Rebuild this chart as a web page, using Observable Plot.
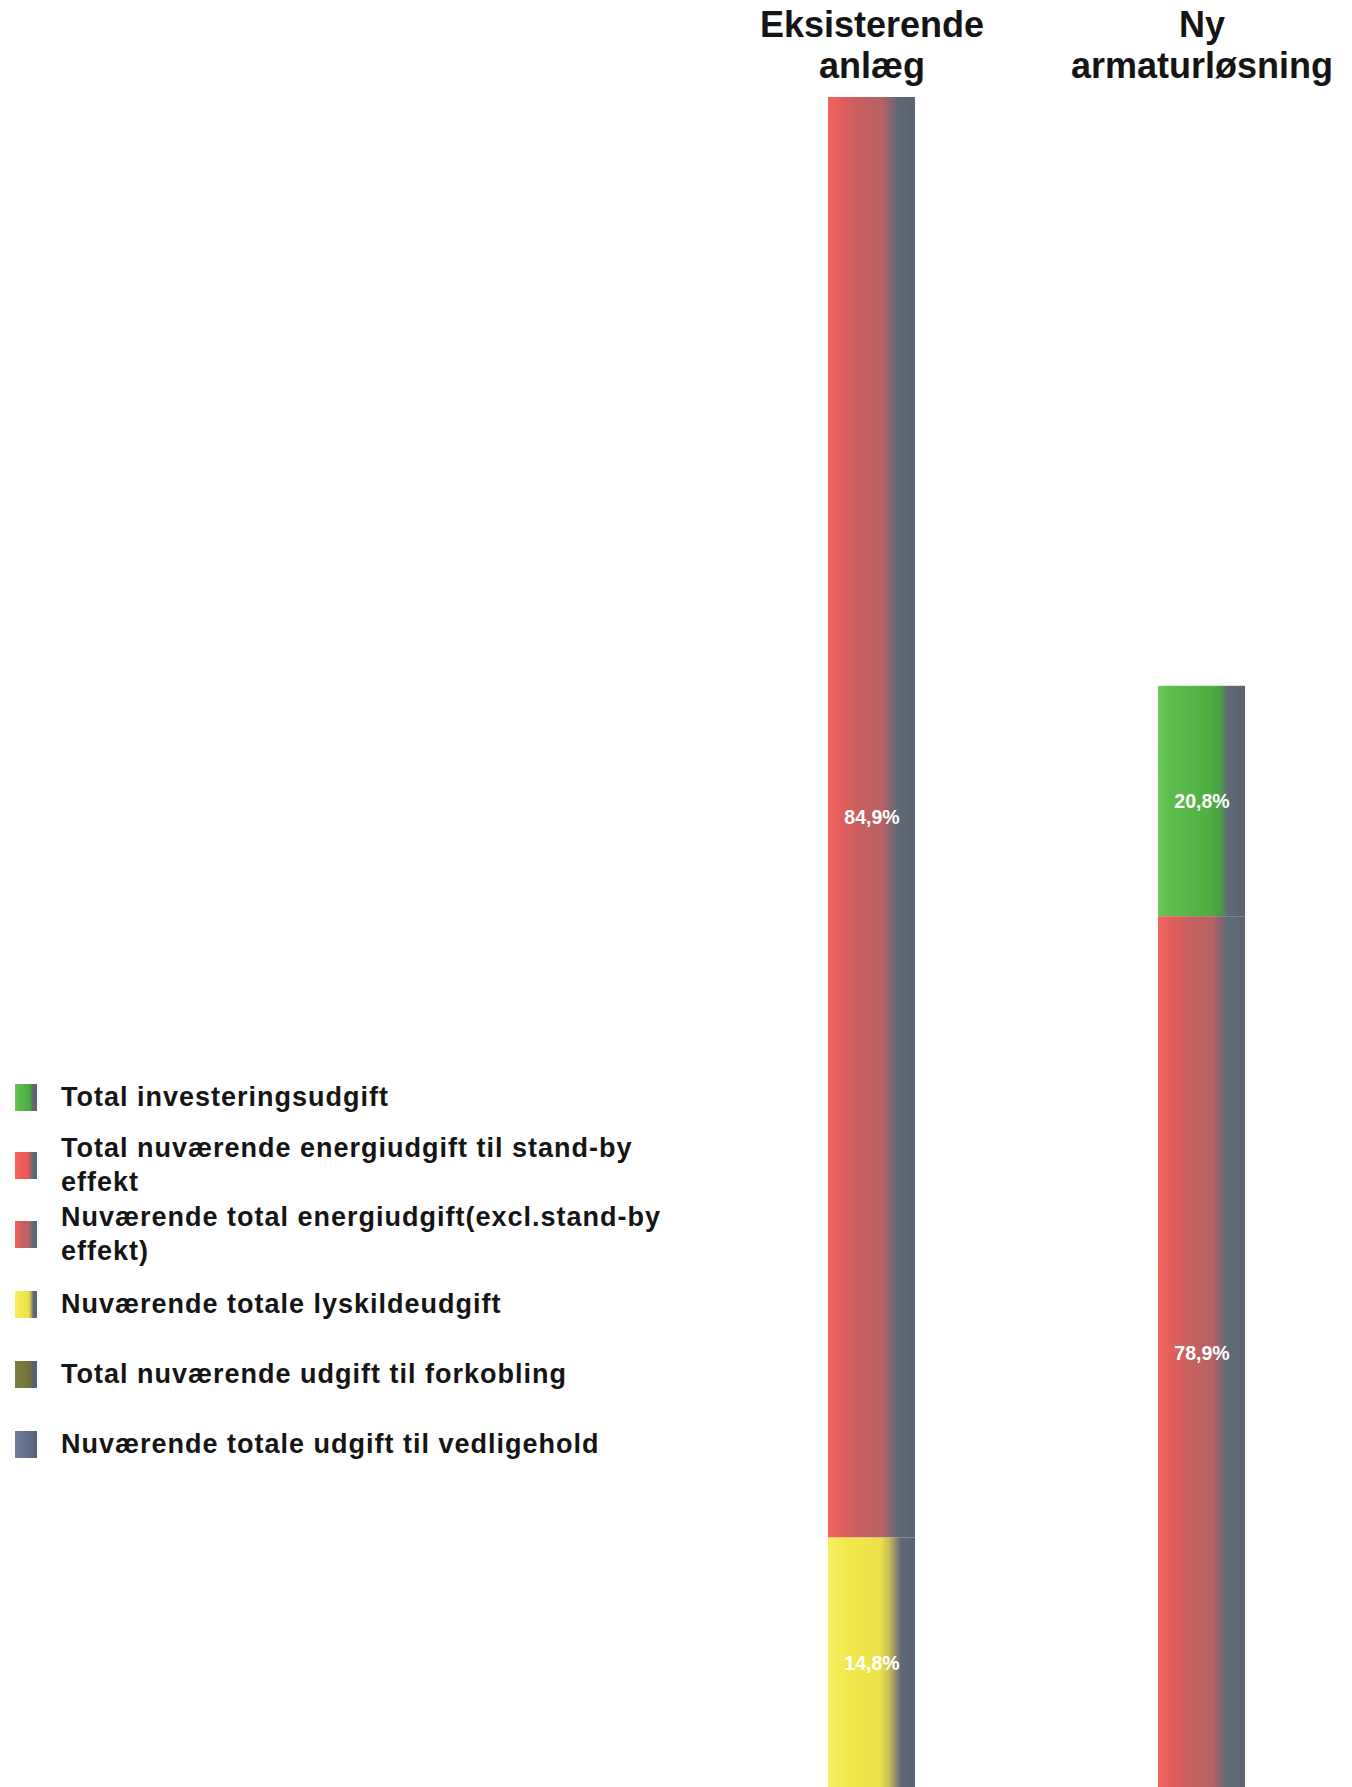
<!DOCTYPE html>
<html>
<head>
<meta charset="utf-8">
<script src="https://cdn.jsdelivr.net/npm/d3@7"></script>
<script src="https://cdn.jsdelivr.net/npm/@observablehq/plot@0.6"></script>
<style>
  body { margin: 0; background: #fff; }
  #wrap { position: relative; width: 1352px; height: 1787px; overflow: hidden; font-family: "Liberation Sans", Arial, sans-serif; background: #fff; }
  #chart { position: absolute; left: 0; top: 0; }
  .sw { position: absolute; left: 15px; width: 22px; height: 27px; }
  .lt { position: absolute; left: 61px; font-weight: bold; font-size: 27px; line-height: 34px; letter-spacing: 1px; color: #151515; white-space: nowrap; }
</style>
</head>
<body>
<div id="wrap"><div id="chart"></div><div id="legend"></div></div>
<script>
// ---- data ----
const categories = ["Eksisterende anlæg", "Ny armaturløsning"];
const categoryLabels = ["Eksisterende\nanlæg", "Ny\narmaturløsning"];
const series = [
  "Total investeringsudgift",
  "Total nuværende energiudgift til stand-by effekt",
  "Nuværende total energiudgift(excl.stand-by effekt)",
  "Nuværende totale lyskildeudgift",
  "Total nuværende udgift til forkobling",
  "Nuværende totale udgift til vedligehold"
];
const legendLines = [
  ["Total investeringsudgift"],
  ["Total nuværende energiudgift til stand-by", "effekt"],
  ["Nuværende total energiudgift(excl.stand-by", "effekt)"],
  ["Nuværende totale lyskildeudgift"],
  ["Total nuværende udgift til forkobling"],
  ["Nuværende totale udgift til vedligehold"]
];
// relative total cost of each solution (existing = 100)
const barTotals = [100, 65.3];
// share (%) of each series within each bar, in series order
const sharesExisting = [0, 0, 84.9, 14.8, 0.1, 0.2];
const sharesNew = [20.8, 0, 78.9, 0, 0, 0.3];
const shares = [sharesExisting, sharesNew];
const labelMinShare = 5;

// ---- styles ----
const gradientStops = [
  [[0, "#6cc85a"], [0.15, "#5cbd4c"], [0.6, "#4fae41"], [0.72, "#4e9a48"], [0.8, "#5d6a74"], [1, "#59636f"]],
  [[0, "#f6665f"], [0.2, "#f05d5a"], [0.6, "#e25a5a"], [0.72, "#a26068"], [0.8, "#5f6a76"], [1, "#5a6470"]],
  [[0, "#f2645e"], [0.15, "#e25e5d"], [0.35, "#c7605f"], [0.62, "#b86264"], [0.74, "#7c6570"], [0.8, "#5f6a76"], [1, "#5a6571"]],
  [[0, "#f7ef62"], [0.2, "#f2ea4c"], [0.6, "#ebe24a"], [0.7, "#c9c056"], [0.78, "#8e8b6a"], [0.84, "#5f6878"], [1, "#5a6474"]],
  [[0, "#7c7d40"], [0.4, "#77783a"], [0.7, "#6c6c40"], [0.8, "#5c6370"], [1, "#565f6c"]],
  [[0, "#6f7d98"], [0.5, "#64718a"], [0.8, "#5d687c"], [1, "#576072"]]
];

// ---- derived table ----
const table = [];
categories.forEach((c, i) => {
  series.forEach((s, j) => {
    const p = shares[i][j];
    if (p > 0) table.push({category: c, series: s, share: p, value: p * barTotals[i] / 100});
  });
});
const stackOrder = series.slice().reverse(); // bottom -> top
const fmtPct = p => p.toFixed(1).replace(".", ",") + "%";
const gradUrls = series.map((s, i) => `url(#grad${i})`);

function gradientDefs() {
  const defs = d3.create("svg:defs");
  gradientStops.forEach((stops, i) => {
    const g = defs.append("linearGradient").attr("id", "grad" + i)
      .attr("x1", 0).attr("x2", 1).attr("y1", 0).attr("y2", 0);
    stops.forEach(([o, c]) => g.append("stop").attr("offset", o).attr("stop-color", c));
  });
  return defs.node();
}

const chart = Plot.plot({
  width: 1352,
  height: 1787,
  marginTop: 97,
  marginBottom: 0,
  marginLeft: 729,
  marginRight: 8,
  style: {fontFamily: "'Liberation Sans', Arial, sans-serif", background: "#fff"},
  x: {domain: categories, paddingInner: 0.7364, paddingOuter: 0.3, round: false, axis: null},
  y: {domain: [0.4, 100], axis: null},
  color: {type: "ordinal", domain: series, range: gradUrls},
  marks: [
    gradientDefs,
    Plot.barY(table, {x: "category", y: "value", fill: "series", order: stackOrder, clip: true}),
    Plot.text(table, Plot.stackY({
      x: "category", y: "value", z: "series", order: stackOrder,
      text: d => d.share >= labelMinShare ? fmtPct(d.share) : "",
      fill: "white", fontWeight: "bold", fontSize: 19.5
    })),
    Plot.text(categories, {
      x: d => d, text: (d, i) => categoryLabels[i],
      frameAnchor: "top", lineAnchor: "bottom", dy: -20,
      fontSize: 36, fontWeight: "bold", lineHeight: 1.12, fill: "#151515"
    })
  ]
});
document.getElementById("chart").appendChild(chart);

// ---- legend ----
const legendTops = [1080, 1131, 1200, 1287, 1357, 1427];
const legend = document.getElementById("legend");
series.forEach((s, i) => {
  const lines = legendLines[i];
  const top = legendTops[i];
  const blockH = lines.length * 34;
  const sw = document.createElement("div");
  sw.className = "sw";
  sw.style.top = (top + blockH / 2 - 13) + "px";
  sw.style.background = "linear-gradient(to right, " +
    gradientStops[i].map(([o, c]) => `${c} ${o * 100}%`).join(", ") + ")";
  legend.appendChild(sw);
  const t = document.createElement("div");
  t.className = "lt";
  t.style.top = top + "px";
  t.innerHTML = lines.join("<br>");
  legend.appendChild(t);
});
</script>
</body>
</html>
